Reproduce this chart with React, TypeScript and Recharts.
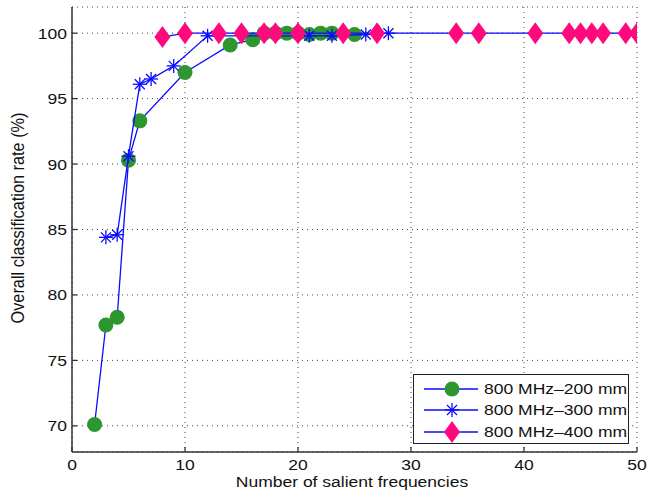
import { ScatterChart, Scatter, XAxis, YAxis, CartesianGrid } from "recharts";

const freq200 = [2, 3, 4, 5, 6, 10, 14, 16, 17, 18, 19, 20, 21, 22, 23, 25];
const rate200 = [70.1, 77.7, 78.3, 90.3, 93.3, 97.0, 99.1, 99.5, 100, 100, 100, 100, 99.9, 100, 100, 99.9];

const freq300 = [3, 4, 5, 6, 7, 9, 12, 21, 23, 26, 28];
const rate300 = [84.4, 84.6, 90.6, 96.1, 96.5, 97.5, 99.8, 99.8, 99.8, 99.9, 100];

const freq400 = [8, 10, 13, 15, 17, 18, 20, 24, 27, 34, 36, 41, 44, 45, 46, 47, 49, 50];
const rate400 = [99.7, 100, 100, 100, 100, 100, 100, 100, 100, 100, 100, 100, 100, 100, 100, 100, 100, 100];

const xTicks = [0, 10, 20, 30, 40, 50];
const yTicks = [70, 75, 80, 85, 90, 95, 100];

const seriesNames = ["800 MHz\u2013200 mm", "800 MHz\u2013300 mm", "800 MHz\u2013400 mm"];

const toPoints = (xs: number[], ys: number[]) => xs.map((x, i) => ({ x, y: ys[i] }));

const BLUE = "#0a0aff";
const GREEN = "#2e962e";
const PINK = "#ff0a7c";
const FONT = "'Liberation Sans', Arial, Helvetica, sans-serif";
const FS = 15.5;
const SX = 1.13; // the figure's text looks stretched sideways

const Circle = (p: any) => <circle cx={p.cx} cy={p.cy} r={7.5} fill={GREEN} />;

const Star = (p: any) => {
  const { cx, cy } = p;
  const d = 7;
  const e = 5;
  return (
    <g stroke={BLUE} strokeWidth={1.3}>
      <line x1={cx - d} x2={cx + d} y1={cy} y2={cy} />
      <line x1={cx} x2={cx} y1={cy - d} y2={cy + d} />
      <line x1={cx - e} x2={cx + e} y1={cy - e} y2={cy + e} />
      <line x1={cx - e} x2={cx + e} y1={cy + e} y2={cy - e} />
    </g>
  );
};

const Diamond = (p: any) => {
  const { cx, cy } = p;
  return (
    <polygon
      points={`${cx},${cy - 11} ${cx + 8},${cy} ${cx},${cy + 11} ${cx - 8},${cy}`}
      fill={PINK}
    />
  );
};

const WideText = ({ x, y, anchor, children }: any) => (
  <text
    transform={`translate(${x},${y}) scale(${SX},1)`}
    textAnchor={anchor}
    fontSize={FS}
    fill="#111"
    fontFamily={FONT}
  >
    {children}
  </text>
);

const XTick = (p: any) => {
  const { x, y, payload } = p;
  return (
    <g>
      <line x1={x} x2={x} y1={y} y2={y - 5} stroke="#333" strokeWidth={1.3} />
      <WideText x={x} y={y + 18} anchor="middle">
        {payload.value}
      </WideText>
    </g>
  );
};

const YTick = (p: any) => {
  const { x, y, payload } = p;
  return (
    <g>
      <line x1={x} x2={x + 5} y1={y} y2={y} stroke="#333" strokeWidth={1.3} />
      <WideText x={x - 5} y={y + 5.5} anchor="end">
        {payload.value}
      </WideText>
    </g>
  );
};

const LegendBox = () => {
  const markers = [
    <circle cx={28} cy={10} r={7.5} fill={GREEN} />,
    <Star cx={28} cy={10} />,
    <Diamond cx={28} cy={10} />,
  ];
  return (
    <div
      style={{
        position: "absolute",
        left: 413,
        top: 374,
        width: 216,
        height: 70,
        border: "1px solid #222",
        background: "#fff",
        fontFamily: FONT,
        fontSize: FS,
        color: "#111",
        boxSizing: "border-box",
        paddingTop: 3,
      }}
    >
      {seriesNames.map((name, i) => (
        <div key={name} style={{ display: "flex", alignItems: "center", height: 21.5 }}>
          <svg width={64} height={24} viewBox="0 -2 64 24" style={{ overflow: "visible" }}>
            <line x1={10} x2={64} y1={10} y2={10} stroke={BLUE} strokeWidth={1.3} />
            <g transform="translate(10,0)">{markers[i]}</g>
          </svg>
          <span
            style={{
              marginLeft: 6,
              lineHeight: "20px",
              display: "inline-block",
              whiteSpace: "nowrap",
              transform: `scaleX(${SX})`,
              transformOrigin: "left center",
            }}
          >
            {name}
          </span>
        </div>
      ))}
    </div>
  );
};

export default function App() {
  return (
    <div style={{ position: "absolute", left: 0, top: 0, width: 660, height: 499, background: "#fff" }}>
      <ScatterChart width={660} height={499} margin={{ top: 7, right: 23, bottom: 0, left: 0 }}>
        <CartesianGrid stroke="#444" strokeDasharray="1 4" strokeWidth={1} />
        <XAxis
          type="number"
          dataKey="x"
          domain={[0, 50]}
          ticks={xTicks}
          height={47}
          tickSize={0}
          tickMargin={0}
          tick={XTick}
          axisLine={{ stroke: "#333", strokeWidth: 1.5 }}
          allowDataOverflow
          label={{
            content: () => (
              <WideText x={352} y={487} anchor="middle">
                Number of salient frequencies
              </WideText>
            ),
          }}
        />
        <YAxis
          type="number"
          dataKey="y"
          domain={[68, 102]}
          ticks={yTicks}
          width={72}
          tickSize={0}
          tickMargin={0}
          tick={YTick}
          axisLine={{ stroke: "#333", strokeWidth: 1.5 }}
          allowDataOverflow
          label={{
            content: () => (
              <text
                transform="translate(24,218) scale(1.1,1) rotate(-90)"
                textAnchor="middle"
                fontSize={16.3}
                fill="#111"
                fontFamily={FONT}
              >
                Overall classification rate (%)
              </text>
            ),
          }}
        />
        <Scatter
          name={seriesNames[0]}
          data={toPoints(freq200, rate200)}
          line={{ stroke: BLUE, strokeWidth: 1.3 }}
          shape={Circle}
          isAnimationActive={false}
        />
        <Scatter
          name={seriesNames[1]}
          data={toPoints(freq300, rate300)}
          line={{ stroke: BLUE, strokeWidth: 1.3 }}
          shape={Star}
          isAnimationActive={false}
        />
        <Scatter
          name={seriesNames[2]}
          data={toPoints(freq400, rate400)}
          line={{ stroke: BLUE, strokeWidth: 1.3 }}
          shape={Diamond}
          isAnimationActive={false}
        />
      </ScatterChart>
      <LegendBox />
    </div>
  );
}
